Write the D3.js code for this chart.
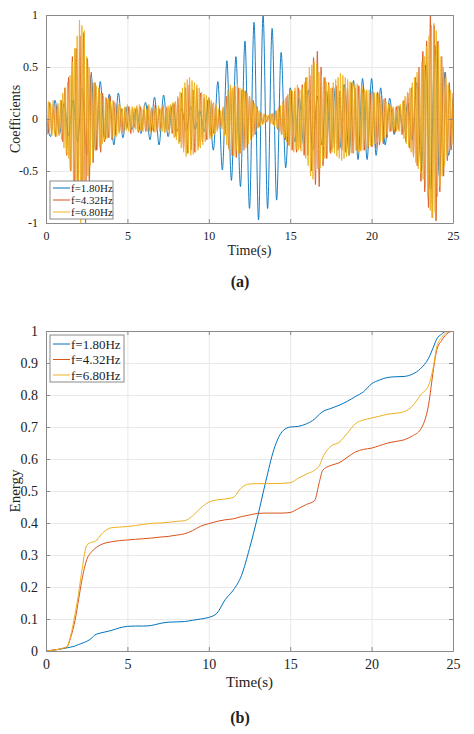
<!DOCTYPE html>
<html>
<head>
<meta charset="utf-8">
<style>
  body { margin: 0; background: #fff; }
  text { font-family: "Liberation Serif", "Times New Roman", serif; fill: #222; }
</style>
</head>
<body>
<div id="fig"></div>
<script src="https://cdn.jsdelivr.net/npm/d3@7"></script>
<script>
var width = 474, height = 734;

var names = ['f=1.80Hz', 'f=4.32Hz', 'f=6.80Hz'];
var colors = ['#0072BD', '#D95319', '#EDB120'];
var timeTicks = [0, 5, 10, 15, 20, 25];
var coefTicks = [-1, -0.5, 0, 0.5, 1];
var energyTicks = [0, 0.1, 0.2, 0.3, 0.4, 0.5, 0.6, 0.7, 0.8, 0.9, 1];

// (a) successive extrema of each coefficient, evenly spread over 0..25 s
var coefBlue = [0.05, -0.17, 0.18, -0.14, 0.15, -0.16, 0.18, -0.22, 0.3, -0.35,
  0.42, -0.3, 0.36, -0.2, 0.24, -0.25, 0.25, -0.18, 0.12, -0.1,
  0.1, -0.14, 0.16, -0.2, 0.21, -0.25, 0.23, -0.17, 0.14, -0.12,
  0.1, -0.12, 0.12, -0.1, 0.08, -0.12, 0.2, -0.3, 0.36, -0.49,
  0.56, -0.59, 0.6, -0.65, 0.75, -0.86, 0.93, -0.97, 1.0, -0.86,
  0.87, -0.78, 0.64, -0.47, 0.3, -0.22, 0.2, -0.25, 0.28, -0.3,
  0.22, -0.25, 0.27, -0.3, 0.3, -0.28, 0.33, -0.35, 0.37, -0.39,
  0.39, -0.39, 0.39, -0.35, 0.3, -0.25, 0.2, -0.15, 0.12, -0.13,
  0.15, -0.2, 0.35, -0.5, 0.52, -0.68, 0.71, -0.55, 0.45, -0.35, 0.2];

var coefOrange = [0.1, -0.14, 0.16, -0.12, 0.15, -0.17, 0.13, -0.15, 0.18,
  -0.22, 0.3, -0.35, 0.4,
  -0.5, 0.6, -0.7, 0.68, -0.75,
  0.8, -0.95, 0.83, -1.0,
  0.58, -0.6, 0.45, -0.42,
  0.35, -0.3, 0.28, -0.32, 0.25,
  -0.22, 0.2, -0.18, 0.22, -0.2, 0.17, -0.15, 0.14,
  -0.12, 0.1, -0.13, 0.11, -0.09, 0.12, -0.14, 0.1, -0.08, 0.11,
  -0.13, 0.12, -0.1, 0.09, -0.12, 0.13, -0.11, 0.1, -0.12, 0.14,
  -0.12, 0.1, -0.09, 0.12, -0.13, 0.11, -0.1, 0.12, -0.14, 0.15,
  -0.17, 0.2, -0.22, 0.25, -0.28,
  0.3, -0.33, 0.33, -0.3, 0.28, -0.32, 0.3, -0.27, 0.25,
  -0.22, 0.2, -0.2, 0.18, -0.16, 0.15, -0.14, 0.12,
  -0.1, 0.08, -0.07, 0.1, -0.15,
  0.22, -0.28, 0.3, -0.35, 0.32, -0.37, 0.3, -0.33, 0.28, -0.3, 0.27, -0.25, 0.22,
  -0.2, 0.18, -0.15, 0.12,
  -0.08, 0.06, -0.05, 0.04, -0.03, 0.03, -0.04, 0.05, -0.06, 0.08, -0.1,
  0.13, -0.15, 0.17, -0.2, 0.22, -0.25,
  0.28, -0.3, 0.27, -0.32, 0.3, -0.28, 0.33, -0.35, 0.4,
  -0.35, 0.42, -0.5, 0.59, -0.63, 0.65, -0.65, 0.5,
  -0.45, 0.4, -0.38, 0.35, -0.33,
  0.3, -0.28, 0.32, -0.3, 0.27, -0.3, 0.33, -0.32, 0.3, -0.28, 0.35,
  -0.33, 0.3, -0.3, 0.32, -0.3, 0.28, -0.3, 0.27, -0.28, 0.25,
  -0.27, 0.25, -0.28, 0.26, -0.25, 0.22, -0.24, 0.2, -0.18,
  0.15, -0.12, 0.1, -0.13, 0.12, -0.1, 0.13, -0.15, 0.18,
  -0.22, 0.25, -0.28, 0.3,
  -0.35, 0.4, -0.45, 0.5,
  -0.6, 0.65, -0.7, 0.75, -0.85,
  1.0, -0.95, 0.9, -0.98,
  0.75, -0.7, 0.6, -0.55,
  0.45, -0.4, 0.35, -0.3, 0.25];

var coefYellow = [0.12, -0.15, 0.17, -0.13, 0.14, -0.16, 0.18, -0.14, 0.13, -0.17, 0.15, -0.16, 0.18, -0.2,
  0.25, -0.28, 0.3, -0.33, 0.35, -0.38, 0.42,
  -0.5, 0.55, -0.6, 0.68, -0.72, 0.8, -0.85,
  0.95, -1.0, 0.9, -0.88, 0.85, -0.75,
  0.6, -0.55, 0.5, -0.45, 0.4, -0.38, 0.35,
  -0.3, 0.32, -0.28, 0.3, -0.27, 0.25, -0.24,
  0.22, -0.2, 0.21, -0.19, 0.2, -0.18, 0.17, -0.19, 0.18, -0.16, 0.15, -0.17, 0.15, -0.14,
  0.13, -0.12, 0.1, -0.13, 0.12, -0.11, 0.14, -0.12, 0.1, -0.09,
  0.12, -0.13, 0.11, -0.1, 0.13, -0.12, 0.14, -0.11, 0.1, -0.12,
  0.13, -0.1, 0.09, -0.12, 0.14, -0.13, 0.11, -0.1, 0.12, -0.13,
  0.1, -0.11, 0.13, -0.12, 0.1, -0.12, 0.14, -0.13, 0.12, -0.11,
  0.13, -0.15, 0.14, -0.13, 0.16, -0.18, 0.17, -0.2, 0.22, -0.24,
  0.26, -0.28, 0.3, -0.32,
  0.35, -0.36, 0.38, -0.33, 0.4, -0.35, 0.37, -0.34, 0.35, -0.32, 0.33, -0.3, 0.3, -0.28,
  0.26, -0.25, 0.24, -0.22, 0.23, -0.2, 0.21, -0.19, 0.18, -0.17, 0.16, -0.15, 0.14,
  -0.12, 0.1, -0.09, 0.08, -0.1, 0.12, -0.16,
  0.2, -0.25, 0.28, -0.3, 0.33, -0.35, 0.3, -0.36, 0.32, -0.3,
  0.34, -0.33, 0.3, -0.32, 0.29, -0.3, 0.27, -0.28, 0.25, -0.24,
  0.22, -0.2, 0.18, -0.17, 0.15, -0.13, 0.11,
  -0.09, 0.08, -0.07, 0.06, -0.05, 0.05, -0.04, 0.04, -0.03, 0.04,
  -0.04, 0.05, -0.05, 0.06, -0.07, 0.08, -0.09, 0.1,
  -0.12, 0.13, -0.15, 0.16, -0.18, 0.2, -0.22, 0.24, -0.26,
  0.28, -0.3, 0.27, -0.32, 0.3, -0.29, 0.33, -0.3, 0.28, -0.31, 0.3, -0.33, 0.35, -0.38,
  0.4, -0.45, 0.5, -0.55, 0.52, -0.58, 0.55, -0.5, 0.53, -0.48, 0.45, -0.47, 0.42, -0.4,
  0.4, -0.38, 0.36, -0.35, 0.33, -0.32,
  0.3, -0.32, 0.35, -0.33, 0.38, -0.36, 0.4, -0.38, 0.44, -0.4,
  0.42, -0.38, 0.4, -0.36, 0.38, -0.35, 0.36, -0.33, 0.35, -0.32,
  0.33, -0.3, 0.34, -0.32, 0.3, -0.31, 0.32, -0.3, 0.29, -0.3,
  0.28, -0.27, 0.28, -0.26,
  0.27, -0.25, 0.26, -0.24, 0.25, -0.23, 0.24, -0.22, 0.2, -0.21, 0.19, -0.18, 0.17, -0.15,
  0.14, -0.12, 0.13, -0.11, 0.12, -0.1, 0.11, -0.12, 0.13, -0.12, 0.14, -0.15, 0.17, -0.19,
  0.22, -0.24, 0.26, -0.27, 0.3, -0.32,
  0.35, -0.37, 0.4, -0.42, 0.45, -0.48, 0.5,
  -0.52, 0.55, -0.58, 0.6, -0.65, 0.7, -0.75,
  0.8, -0.88, 0.9, -0.95, 0.92, -0.9, 0.85,
  -0.75, 0.7, -0.65, 0.6, -0.55, 0.5, -0.45,
  0.4, -0.36, 0.33, -0.3, 0.28, -0.25, 0.2];

// (b) cumulative normalised energy
var energyTime = [0, 0.5, 1, 1.3, 1.5, 1.8, 2, 2.2, 2.5, 2.8,
  3, 3.5, 4, 4.5, 5, 5.5, 6, 6.5, 7, 7.5,
  8, 8.5, 9, 9.5, 10, 10.5, 11, 11.5, 12, 12.5,
  13, 13.5, 14, 14.5, 15, 15.5, 16, 16.5, 16.8, 17, 17.5,
  18, 18.5, 19, 19.5, 20, 20.5, 21, 21.5, 22, 22.5,
  23, 23.5, 23.8, 24, 24.3, 24.6, 25];
var energyBlue = [0, 0.003, 0.007, 0.01, 0.012, 0.016, 0.02, 0.024, 0.03, 0.04,
  0.05, 0.058, 0.064, 0.072, 0.077, 0.078, 0.078, 0.08, 0.086, 0.09,
  0.091, 0.092, 0.096, 0.1, 0.105, 0.118, 0.16, 0.19, 0.235, 0.32,
  0.42, 0.53, 0.63, 0.685, 0.7, 0.702, 0.71, 0.725, 0.74, 0.748, 0.758,
  0.768, 0.78, 0.795, 0.81, 0.835, 0.847, 0.855, 0.857, 0.858, 0.865,
  0.882, 0.915, 0.95, 0.975, 0.99, 1.0, 1.0];
var energyOrange = [0, 0.003, 0.008, 0.014, 0.04, 0.1, 0.16, 0.22, 0.285, 0.31,
  0.32, 0.335, 0.341, 0.345, 0.347, 0.349, 0.351, 0.353, 0.356, 0.358,
  0.362, 0.366, 0.376, 0.39, 0.398, 0.405, 0.41, 0.413, 0.42, 0.425,
  0.43, 0.431, 0.431, 0.431, 0.433, 0.445, 0.458, 0.47, 0.53, 0.565, 0.58,
  0.588, 0.605, 0.622, 0.63, 0.634, 0.642, 0.65, 0.655, 0.66, 0.672,
  0.692, 0.77, 0.88, 0.94, 0.97, 0.99, 1.0];
var energyYellow = [0, 0.003, 0.008, 0.015, 0.045, 0.12, 0.18, 0.25, 0.33, 0.34,
  0.342, 0.37, 0.385, 0.387, 0.389, 0.392, 0.396, 0.399, 0.4, 0.402,
  0.405, 0.407, 0.422, 0.447, 0.465, 0.472, 0.475, 0.48, 0.51, 0.522,
  0.523, 0.523, 0.523, 0.524, 0.526, 0.54, 0.553, 0.565, 0.58, 0.605, 0.64,
  0.652, 0.68, 0.71, 0.722, 0.728, 0.734, 0.74, 0.743, 0.748, 0.765,
  0.8, 0.83, 0.89, 0.95, 0.98, 0.995, 1.0];

var svg = d3.select('#fig').append('svg')
    .attr('width', width)
    .attr('height', height);

var left = 46, right = 453;
var x = d3.scaleLinear().domain([0, 25]).range([left, right]);

function panel(cfg) {
    var y = d3.scaleLinear().domain(cfg.yDomain).range([cfg.bottom, cfg.top]);
    var g = svg.append('g');
    var w = right - left, h = cfg.bottom - cfg.top;

    // grid
    g.append('g').attr('transform', 'translate(0,' + cfg.bottom + ')')
        .call(d3.axisBottom(x).tickValues(timeTicks).tickSize(-h).tickFormat(''))
        .call(function(s){ s.select('.domain').remove(); s.selectAll('line').attr('stroke', '#e8e8e8'); });
    g.append('g').attr('transform', 'translate(' + left + ',0)')
        .call(d3.axisLeft(y).tickValues(cfg.yTicks).tickSize(-w).tickFormat(''))
        .call(function(s){ s.select('.domain').remove(); s.selectAll('line').attr('stroke', '#e8e8e8'); });

    // lines
    g.append('clipPath').attr('id', cfg.id + 'clip')
        .append('rect').attr('x', left).attr('y', cfg.top).attr('width', w).attr('height', h);
    var lines = g.append('g').attr('clip-path', 'url(#' + cfg.id + 'clip)');
    cfg.series.forEach(function(s, i){
        var line = d3.line()
            .x(function(d){ return x(d[0]); })
            .y(function(d){ return y(d[1]); })
            .curve(d3.curveMonotoneX);
        lines.append('path')
            .attr('d', line(s))
            .attr('fill', 'none')
            .attr('stroke', colors[i])
            .attr('stroke-width', cfg.lineWidth);
    });

    // axes, ticks inward on all four sides
    function style(s){ s.select('.domain').attr('stroke', '#8a8a8a'); s.selectAll('.tick line').attr('stroke', '#8a8a8a'); s.selectAll('text').attr('font-size', cfg.tickFont).attr('fill', '#222').style('font-family', '"Liberation Serif", serif'); }
    g.append('g').attr('transform', 'translate(0,' + cfg.bottom + ')')
        .call(d3.axisBottom(x).tickValues(timeTicks).tickSizeInner(-4).tickSizeOuter(0).tickPadding(8).tickFormat(d3.format('d')))
        .call(style);
    g.append('g').attr('transform', 'translate(0,' + cfg.top + ')')
        .call(d3.axisTop(x).tickValues(timeTicks).tickSizeInner(-4).tickSizeOuter(0).tickFormat(''))
        .call(style);
    g.append('g').attr('transform', 'translate(' + left + ',0)')
        .call(d3.axisLeft(y).tickValues(cfg.yTicks).tickSizeInner(-4).tickSizeOuter(0).tickPadding(8).tickFormat(function(d){ return String(d); }))
        .call(style);
    g.append('g').attr('transform', 'translate(' + right + ',0)')
        .call(d3.axisRight(y).tickValues(cfg.yTicks).tickSizeInner(-4).tickSizeOuter(0).tickFormat(''))
        .call(style);

    // labels
    g.append('text').attr('x', (left + right) / 2).attr('y', cfg.xLabelY)
        .attr('text-anchor', 'middle').attr('font-size', cfg.labelFont).text('Time(s)');
    g.append('text').attr('transform', 'translate(20,' + (cfg.top + cfg.bottom) / 2 + ') rotate(-90)')
        .attr('text-anchor', 'middle').attr('font-size', cfg.labelFont).text(cfg.yLabel);
    g.append('text').attr('x', 240).attr('y', cfg.captionY)
        .attr('text-anchor', 'middle').attr('font-size', 16).attr('font-weight', 'bold')
        .text(cfg.caption);

    // legend
    var L = cfg.legend;
    var lg = g.append('g');
    lg.append('rect').attr('x', L.x).attr('y', L.y).attr('width', L.w).attr('height', L.h)
        .attr('fill', '#fff').attr('stroke', '#8a8a8a').attr('stroke-width', 1);
    names.forEach(function(n, i){
        var yy = L.y + L.pad + i * L.step;
        lg.append('line').attr('x1', L.x + 3).attr('x2', L.x + 20).attr('y1', yy).attr('y2', yy)
            .attr('stroke', colors[i]).attr('stroke-width', 1);
        lg.append('text').attr('x', L.x + 21).attr('y', yy).attr('dy', '0.35em')
            .attr('font-size', L.font).text(n);
    });
}

function toPairs(vals){
    var dt = 25 / (vals.length - 1);
    return vals.map(function(v, i){ return [i * dt, v]; });
}

panel({
    id: 'a', top: 15, bottom: 223, yDomain: [-1, 1], yTicks: coefTicks,
    series: [toPairs(coefBlue), toPairs(coefOrange), toPairs(coefYellow)],
    lineWidth: 0.9, tickFont: 12, labelFont: 14,
    xLabelY: 255, yLabel: 'Coefficients', caption: '(a)', captionY: 287,
    legend: { x: 50, y: 181, w: 63, h: 38, pad: 7, step: 12, font: 11 }
});

panel({
    id: 'b', top: 331, bottom: 651, yDomain: [0, 1], yTicks: energyTicks,
    series: [energyBlue, energyOrange, energyYellow].map(function(s){
        return s.map(function(v, i){ return [energyTime[i], v]; });
    }),
    lineWidth: 1, tickFont: 14, labelFont: 15,
    xLabelY: 687, yLabel: 'Energy', caption: '(b)', captionY: 723,
    legend: { x: 50, y: 335, w: 74, h: 47, pad: 9, step: 15.5, font: 13 }
});
</script>
</body>
</html>
